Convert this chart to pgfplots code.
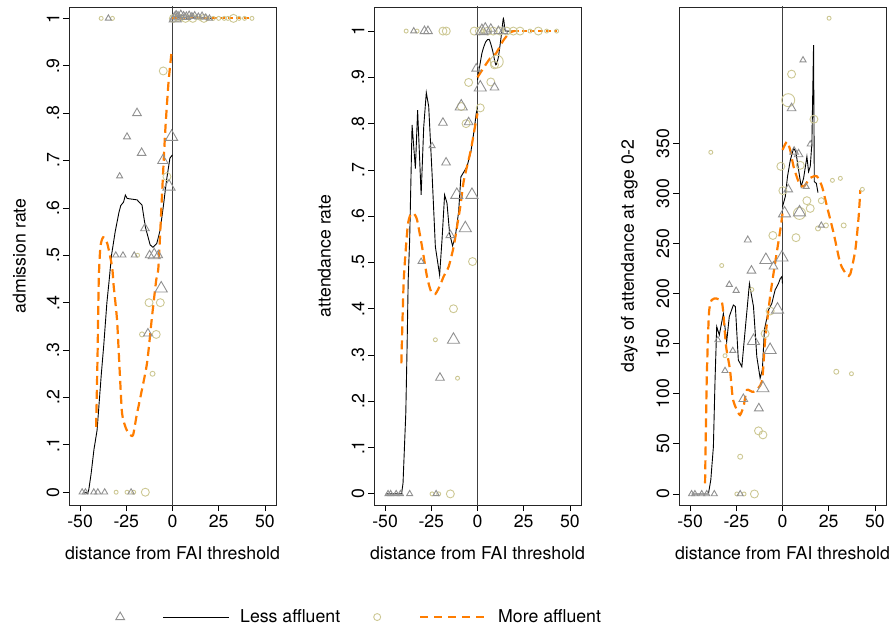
\documentclass[border=0pt]{standalone}
\usepackage{fontspec}
\setmainfont{TeX Gyre Heros}
\usepackage{pgfplots}
\pgfplotsset{compat=1.18}
\definecolor{trigray}{RGB}{145,145,145}
\definecolor{circol}{RGB}{205,200,148}
\definecolor{sorange}{RGB}{255,125,0}
\pgfplotsset{
  common/.style={
    width=207pt, height=498pt, scale only axis, anchor=south west,
    font=\fontsize{17.7}{21}\selectfont,
    xmin=-56, xmax=56, xtick={-50,-25,0,25,50}, xticklabels={-50,-25,0,25,50},
    tick align=outside, major tick length=6pt, tick style={black, line width=0.8pt},
    xtick pos=bottom, ytick pos=left,
    axis line style={line width=0.9pt, black!85},
    xlabel={distance from FAI threshold},
    xlabel style={at={(axis description cs:0.5,-0.096)}, anchor=center},
    ylabel style={at={(axis description cs:-0.24,0.5)}, anchor=center},
    yticklabel style={rotate=90, anchor=south},
  },
  tri/.style={scatter, only marks, mark=triangle, forget plot,
    scatter/use mapped color={draw=trigray, fill=none},
    visualization depends on={\thisrow{s}\as\ms},
    scatter/@pre marker code/.append style={/tikz/mark size=\ms},
    line width=0.9pt},
  cir/.style={scatter, only marks, mark=o, forget plot,
    scatter/use mapped color={draw=circol, fill=none},
    visualization depends on={\thisrow{s}\as\ms},
    scatter/@pre marker code/.append style={/tikz/mark size=\ms},
    line width=0.9pt},
  less/.style={black, line width=0.9pt, forget plot},
  more/.style={sorange, line width=2.2pt, dash pattern=on 9pt off 5pt, forget plot},
  zline/.style={black!75, line width=0.7pt, forget plot},
}
\begin{document}
\begin{tikzpicture}
\useasboundingbox (0pt,0pt) rectangle (893pt,-629pt);
% ---------------- Panel 1 ----------------
\begin{axis}[common, at={(69pt,-505pt)},
  ymin=-0.027, ymax=1.024,
  ytick={0,0.1,0.2,0.3,0.4,0.5,0.6,0.7,0.8,0.9,1},
  yticklabels={0,.1,.2,.3,.4,.5,.6,.7,.8,.9,1},
  ylabel={admission rate},
  legend columns=4,
  legend style={at={(axis description cs:0.198,-0.225)}, anchor=west, draw=none, fill=none,
    inner sep=0pt, nodes={inner sep=0pt, anchor=west}, column sep=0pt,
    font=\fontsize{17.7}{21}\selectfont},
]
\addplot[zline] coordinates {(0,-1) (0,2)};
\addplot[cir] table[row sep=\\] {x y s\\
-38.6 1 2\\ -32.5 1 2\\ -18.9 0.5 2\\ -5.0 0.889 4\\ -3.0 0.666 4\\ -12.7 0.4 4\\ -6.6 0.4 4\\
-16.5 0.333 2.5\\ -8.8 0.333 4\\ -10.8 0.25 2.5\\ -30.5 0 2\\ -24.6 0 2\\ -21 0 2\\ -14.7 0 4\\
0.5 1 4\\ 3 1.002 4\\ 5 1 2\\ 7 1 4\\ 9 1.003 2\\ 11 1 4\\ 13 1.002 2\\ 15 1 2\\ 17 1 4\\ 19 1 2\\
22 1 2\\ 25 1 2\\ 28 1 2\\ 30 1 2\\ 33 1 4\\ 36 1 2\\ 39 1 2\\ 43 1 2\\
};
\addplot[tri] table[row sep=\\] {x y s\\
-34.7 1 3.5\\ -19.2 0.80 5\\ -24.6 0.75 4\\ -28.6 0.667 3.5\\ -16.7 0.716 5\\ -5.2 0.70 6\\
-0.5 0.75 7\\ -1.9 0.645 7\\ -14.9 0.557 5\\ -30.7 0.5 3.5\\ -26.8 0.5 3.5\\ -20.7 0.5 3.5\\
-12.4 0.5 5\\ -9.9 0.5 7\\ -7.7 0.5 5\\ -6.1 0.43 7\\ -13.3 0.335 5\\
-48.9 0 3.5\\ -47.1 0 3.5\\ -42.6 0 3.5\\ -40.4 0 3.5\\ -36.7 0 3.5\\ -22.4 0 3.5\\
1 1.002 5\\ 2 1.008 4\\ 3 1.004 5\\ 4.5 1.01 3.5\\ 6 1.006 4\\ 7.5 1.003 5\\ 9 1.008 3.5\\
10.5 1.004 4\\ 12 1.007 3.5\\ 14 1.003 4\\ 16 1.006 3.5\\ 18 1.002 3.5\\ 1.5 1.0 7\\ 20 1.0 3.5\\
};
\addplot[less] coordinates {(-48,0) (-47,0) (-46,-0.003) (-45.3,0.005) (-44,0.04) (-42.5,0.09)
 (-40.8,0.131) (-38.5,0.25) (-37.2,0.31) (-35.5,0.40) (-34.2,0.45) (-33,0.50) (-31,0.55) (-29,0.59)
 (-28,0.605) (-26.5,0.612) (-25.5,0.627) (-24.5,0.62) (-22.9,0.619) (-19.2,0.617) (-16.5,0.606)
 (-14.7,0.56) (-12.1,0.522) (-10.6,0.517) (-8.5,0.525) (-6.7,0.553) (-5,0.602) (-3.2,0.659)
 (-1.4,0.705) (0,0.712)};
\addplot[less] coordinates {(0,1) (2,1.002) (4,1.001) (6,1.003) (8,1.0) (10,1.002) (13,1.0) (16,1.001) (21,1.0)};
\addplot[more, smooth, tension=0.4] coordinates {(-41.3,0.138) (-40.5,0.3) (-39.9,0.448) (-39,0.518)
 (-37.5,0.538) (-35.3,0.525) (-32.7,0.476) (-31.8,0.434) (-30,0.363) (-28.5,0.25) (-27.3,0.167)
 (-25.5,0.138) (-23.7,0.124) (-21.4,0.12) (-19.5,0.16) (-17.4,0.20) (-13.8,0.272) (-11.1,0.37)
 (-8.8,0.448) (-7.6,0.476) (-5.8,0.617) (-4.0,0.757) (-2.2,0.863) (-0.4,0.933)};
\addplot[more, dash pattern=on 5pt off 3pt] coordinates {(0,1) (43,1)};
\addlegendimage{legend image code/.code={\path[draw=none,fill=none] (-10pt,0pt) rectangle (30pt,0.1pt); \draw[trigray, line width=0.9pt] (0pt,0pt) node[draw=none] {} ++(0pt,0pt) plot[only marks, mark=triangle, mark size=5pt] coordinates {(0pt,0pt)};}}
\addlegendentry{}
\addlegendimage{legend image code/.code={\path[draw=none,fill=none] (0pt,0pt) rectangle (89pt,0.1pt); \draw[black, line width=0.9pt] (12pt,0pt)--(78pt,0pt);}}
\addlegendentry{Less affluent}
\addlegendimage{legend image code/.code={\path[draw=none,fill=none] (0pt,0pt) rectangle (61pt,0.1pt); \draw[circol, line width=0.9pt] (37pt,0pt) circle (3.5pt);}}
\addlegendentry{}
\addlegendimage{legend image code/.code={\path[draw=none,fill=none] (0pt,0pt) rectangle (96pt,0.1pt); \draw[sorange, line width=2.2pt, dash pattern=on 8pt off 6pt] (18pt,0pt)--(85pt,0pt);}}
\addlegendentry{More affluent}
\end{axis}
% ---------------- Panel 2 ----------------
\begin{axis}[common, at={(374pt,-505pt)},
  ymin=-0.024, ymax=1.052,
  ytick={0,0.1,0.2,0.3,0.4,0.5,0.6,0.7,0.8,0.9,1},
  yticklabels={0,.1,.2,.3,.4,.5,.6,.7,.8,.9,1},
  ylabel={attendance rate},
]
\addplot[zline] coordinates {(0,-1) (0,2)};
\addplot[cir] table[row sep=\\] {x y s\\
-38.6 1 2\\ -32.7 1 2\\ -18.7 1 4\\ -16.9 1 4\\ -1.8 1 4\\ -4.8 0.889 4\\ 7.2 0.89 4\\ 10.4 0.934 6.5\\
9.2 0.927 4\\ -8.8 0.837 4\\ 1.5 0.834 4\\ -6.2 0.80 4\\ -2.7 0.502 4\\ -13 0.40 4\\ -22.8 0.333 2\\
-10.8 0.25 2\\ -24.6 0 2\\ -21 0 2\\ -14.7 0 4\\
1 1 4\\ 3 1 2\\ 5.5 1 4\\ 8.5 1 4\\ 12.2 1 4\\ 15.8 1 4\\ 19.4 1 4\\ 23 1 4\\ 28.4 1 2\\ 32.9 1 4\\ 37.4 1 2\\ 42.8 1 2\\
};
\addplot[tri] table[row sep=\\] {x y s\\
-34.5 1 3.5\\ -28.7 1 5\\ -26.8 1 5\\ 2.4 1 7\\ 4.2 1.003 7\\ 7.2 1.005 5\\ 11.3 1 5\\ 14 1 5\\
-0.7 0.919 5\\ 1.5 0.878 7\\ 9.2 0.878 5\\ -8.8 0.837 7\\ -18.7 0.802 5\\ -4.8 0.803 5\\
-24.6 0.752 3.5\\ -17 0.716 5\\ -11.2 0.646 7\\ -3.0 0.646 7\\ -14.7 0.559 5\\ -6.6 0.574 7\\
-30.5 0.502 3.5\\ -13 0.333 7\\ -20.3 0.251 5\\
-48.4 0 3.5\\ -47 0 3.5\\ -44 0 3.5\\ -41.7 0 3.5\\ -36.7 0 3.5\\ -22.4 0 3.5\\
};
\addplot[less] coordinates {(-49.6,0) (-41.1,0) (-40.3,0.023) (-38.8,0.174) (-38.1,0.318)
 (-37.5,0.462) (-36.7,0.55) (-35.4,0.797) (-33.6,0.703) (-32.4,0.829) (-30.5,0.646) (-29.1,0.793)
 (-27.7,0.867) (-26.4,0.837) (-24.6,0.693) (-22.8,0.534) (-20.5,0.473) (-19.2,0.549) (-17.8,0.646)
 (-16.5,0.628) (-15.1,0.563) (-13.5,0.536) (-12,0.556) (-10.2,0.61) (-9,0.685) (-5.7,0.707)
 (-3.6,0.739) (-1.8,0.786) (-0.7,0.822) (0,0.833)};
\addplot[less, smooth, tension=0.4] coordinates {(0,0.894) (2.4,0.952) (4.5,0.977) (6.3,0.982) (8.1,0.959)
 (9.9,0.927) (11.3,0.944) (12.8,0.988) (14,1.027) (14.9,1.002) (16,1.0) (19.4,1.0)};
\addplot[more, smooth, tension=0.4] coordinates {(-41.2,0.282) (-39.9,0.462) (-37.8,0.577) (-36.3,0.603)
 (-34.5,0.606) (-32.7,0.592) (-30,0.534) (-27.3,0.469) (-25.1,0.437) (-22.8,0.432) (-20.1,0.452)
 (-18.3,0.470) (-15.6,0.491) (-12.9,0.534) (-11.1,0.577) (-9.3,0.621) (-7.5,0.675) (-5.7,0.707)
 (-3.6,0.743) (-1.2,0.797) (0,0.822)};
\addplot[more, smooth, tension=0.4] coordinates {(0,0.90) (2.4,0.915) (6.8,0.941) (9.9,0.951) (14,0.98) (17.6,0.997) (20,1.0)};
\addplot[more, dash pattern=on 5pt off 3pt] coordinates {(20,1) (42.8,1)};
\end{axis}
% ---------------- Panel 3 ----------------
\begin{axis}[common, at={(679pt,-505pt)},
  ymin=-11, ymax=486,
  ytick={0,50,100,150,200,250,300,350},
  yticklabels={0,50,100,150,200,250,300,350},
  ylabel={days of attendance at age 0-2},
]
\addplot[zline] coordinates {(0,-100) (0,600)};
\addplot[cir] table[row sep=\\] {x y s\\
25.2 474.8 2\\ 4.9 419 4\\ 3.1 393 6.5\\ 17.0 374 4\\ -38.8 341 2\\ -0.9 327 4\\ 9.6 328 4\\
0.2 302.7 4\\ 27 313 2\\ 31.3 315 2\\ 43.2 304 2\\ 13.2 292.7 4\\ 15 285 4\\ 9.2 280 6\\
21 292.7 3\\ 19.2 265 2.5\\ 23.5 268 2.5\\ 33.1 268 2.5\\ 7.3 255.8 4\\ -5.2 258 4\\
-32.9 228 2\\ -16.6 204 2\\ -31.1 138 2\\ -6.7 182.6 4\\ -9.4 160 4\\ -13 63 4\\ -10.6 59 4\\
-22.9 37.2 2.5\\ 29.1 122 2.5\\ 37.3 120 2\\ -24.7 0 2\\ -20.8 0 2\\ -15.2 0 4\\
};
\addplot[tri] table[row sep=\\] {x y s\\
11.1 433 3.5\\ 4.9 385 5\\ 15 349 3.5\\ 6.3 341.6 5\\ 8.7 339 5\\ 12.8 306.7 3.5\\ 3.1 304 5\\
1.1 280 7\\ 9.2 281 7\\ 21 268 3.5\\ -18.8 253.5 4\\ -9.0 233.5 7\\ -0.3 236 7\\ -4.9 227 5\\
-16.8 222.9 5\\ -28.8 209 3.5\\ -25.1 203 3.5\\ -35 153.7 3.5\\ -31.1 123 3.5\\ -26.9 143 3.5\\
-21.2 94.8 5\\ -15.7 152.7 7\\ -2.7 184 7\\ -6.7 143.7 7\\ -10.6 105.5 7\\ -12.8 85.5 5\\
-49.2 0 3.5\\ -47.4 0 3.5\\ -43.7 0 3.5\\ -41 0 3.5\\ -36.9 0 3.5\\ -22.9 0 3.5\\
};
\addplot[less] coordinates {(-49.2,0) (-40.1,0) (-38.8,14) (-37.4,47) (-36.5,114) (-35.6,167)
 (-34.2,158.7) (-32,180) (-30.2,152) (-28.8,177) (-26.6,188.6) (-25.5,187) (-23.9,133.7) (-22,127)
 (-20.2,163.7) (-17.9,210) (-15.7,187) (-13.9,137) (-12.1,115.5) (-10.9,123.8) (-9.8,163.7)
 (-7.6,183.6) (-5.8,190) (-4,203.6) (-2.2,210) (-1.2,215) (-0.3,217) (0,210)};
\addplot[less] coordinates {(0,286.7) (1.5,296.7) (2.7,316.7) (4.2,333) (6,345) (7.2,341.6)
 (8.7,323.4) (10.1,306.7) (11.4,315) (13.2,336.6) (14.1,321.7) (15,326.7) (15.9,350) (16.8,448)
 (17.2,311.7) (18.3,310) (19.2,300.7)};
\addplot[more, smooth, tension=0.4] coordinates {(-41.9,10.7) (-41,114) (-39.8,180) (-38.3,193.6)
 (-35.6,195) (-32.9,192) (-32,180) (-30.5,147) (-28.4,123.8) (-26.9,95.5) (-25.1,85.5) (-23,78.8)
 (-21,88) (-19.3,103.8) (-15.7,102) (-11.2,112) (-9.4,153.7) (-6.7,197) (-4,230.5) (-1.2,263.5) (0,280)};
\addplot[more, smooth, tension=0.4] coordinates {(0,343.3) (2.4,351.6) (4.2,343) (6,326.7) (8.7,311.7)
 (11.4,306.7) (15,315.4) (18.6,317) (21.4,306.7) (24.1,286.7) (27.7,260) (31.3,230) (34.9,218.5)
 (36.7,219.6) (39.4,243.5) (41.2,276.7) (42.1,303.4)};
\end{axis}
\end{tikzpicture}
\end{document}
